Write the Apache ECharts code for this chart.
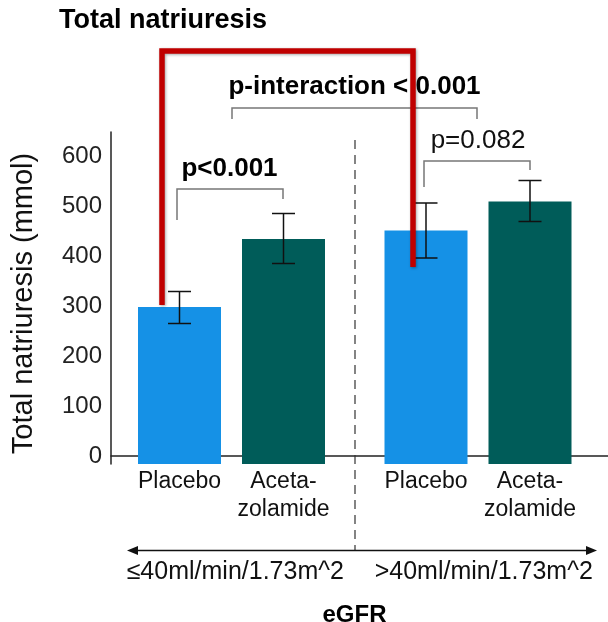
<!DOCTYPE html>
<html>
<head>
<meta charset="utf-8">
<script src="https://cdn.jsdelivr.net/npm/echarts@6/dist/echarts.min.js"></script>
<style>
html,body{margin:0;padding:0;background:#fff;}
#chart{width:608px;height:622px;}
</style>
</head>
<body>
<div id="chart"></div>
<script>
// ---- data ----
const groups = ['≤40ml/min/1.73m^2', '>40ml/min/1.73m^2'];
const treatments = ['Placebo', 'Aceta-\nzolamide'];
const meanLowEgfr = [298, 434];      // eGFR ≤40: placebo, acetazolamide
const meanHighEgfr = [451, 509];     // eGFR >40
const errLowEgfrLower = [265, 385];
const errLowEgfrUpper = [329, 485];
const errHighEgfrLower = [396, 469];
const errHighEgfrUpper = [506, 551];
const yTicks = [0, 100, 200, 300, 400, 500, 600];

const FONT = '"Liberation Sans", Arial, sans-serif';
const colors = ['#1591E6', '#005C59'];
const Y_MIN = -16, Y_MAX = 648;

function barData(vals) {
  return vals.map((v, i) => ({ value: v, itemStyle: { color: colors[i] } }));
}
function errData(lo, hi) {
  return lo.map((l, i) => [i, l, hi[i]]);
}
function renderErr(params, api) {
  const x = api.value(0);
  const lo = api.coord([x, api.value(1)]);
  const hi = api.coord([x, api.value(2)]);
  const hw = 11.5;
  const st = { stroke: '#111', lineWidth: 1.5 };
  return {
    type: 'group',
    children: [
      { type: 'line', shape: { x1: lo[0], y1: lo[1], x2: hi[0], y2: hi[1] }, style: st },
      { type: 'line', shape: { x1: lo[0] - hw, y1: lo[1], x2: lo[0] + hw, y2: lo[1] }, style: st },
      { type: 'line', shape: { x1: hi[0] - hw, y1: hi[1], x2: hi[0] + hw, y2: hi[1] }, style: st }
    ]
  };
}

const gridCommon = { top: 132, bottom: 158, outerBoundsMode: 'none', containLabel: false };
const hiddenY = (idx) => ({
  type: 'value', gridIndex: idx, min: Y_MIN, max: Y_MAX, startValue: Y_MIN, show: false
});
const catX = (idx) => ({
  type: 'category', gridIndex: idx, data: treatments,
  axisLine: { show: false }, axisTick: { show: false },
  axisLabel: { fontFamily: FONT, fontSize: 23, color: '#111', lineHeight: 28, margin: 4, interval: 0 }
});

const chart = echarts.init(document.getElementById('chart'), null, { renderer: 'canvas' });
const bracketStyle = { stroke: '#777', lineWidth: 1.5, fill: null };

chart.setOption({
  animation: false,
  backgroundColor: '#fff',
  title: {
    text: 'Total natriuresis', left: 59, top: 7, padding: 0,
    textStyle: { fontFamily: FONT, fontSize: 27, fontWeight: 'bold', color: '#000' }
  },
  grid: [
    Object.assign({ left: 111, right: 0 }, gridCommon),
    Object.assign({ left: 127.5, width: 208 }, gridCommon),
    Object.assign({ left: 374, width: 208 }, gridCommon)
  ],
  xAxis: [
    {
      type: 'category', gridIndex: 0, data: groups,
      axisLine: { show: true, lineStyle: { color: '#222', width: 1.5 } },
      axisTick: { show: false },
      axisLabel: { fontFamily: FONT, fontSize: 25, color: '#111', margin: 96, interval: 0 },
      name: 'eGFR', nameLocation: 'middle', nameGap: 139,
      nameTextStyle: { fontFamily: FONT, fontSize: 24, fontWeight: 'bold', color: '#000', padding: [0, 10, 0, 0] }
    },
    catX(1),
    catX(2)
  ],
  yAxis: [
    {
      type: 'value', gridIndex: 0, min: Y_MIN, max: Y_MAX, startValue: Y_MIN,
      axisLine: { show: true, lineStyle: { color: '#222', width: 1.5 } },
      axisTick: { show: false },
      splitLine: { show: false },
      axisLabel: { customValues: yTicks, fontFamily: FONT, fontSize: 24, color: '#222', margin: 9 },
      name: 'Total natriuresis (mmol)', nameLocation: 'middle', nameRotate: 90, nameGap: 73,
      nameTextStyle: { fontFamily: FONT, fontSize: 29, color: '#111', padding: [0, 11, 0, 0] }
    },
    hiddenY(1),
    hiddenY(2)
  ],
  series: [
    { type: 'bar', xAxisIndex: 1, yAxisIndex: 1, barWidth: 83, data: barData(meanLowEgfr), z: 2 },
    { type: 'bar', xAxisIndex: 2, yAxisIndex: 2, barWidth: 83, data: barData(meanHighEgfr), z: 2 },
    { type: 'custom', xAxisIndex: 1, yAxisIndex: 1, renderItem: renderErr,
      data: errData(errLowEgfrLower, errLowEgfrUpper), z: 3 },
    { type: 'custom', xAxisIndex: 2, yAxisIndex: 2, renderItem: renderErr,
      data: errData(errHighEgfrLower, errHighEgfrUpper), z: 3 }
  ],
  graphic: [
    // dashed separator
    { type: 'line', z: 5, shape: { x1: 355, y1: 140, x2: 355, y2: 550 },
      style: { stroke: '#333', lineWidth: 1.2, lineDash: [9, 6] } },
    // double arrow
    { type: 'line', z: 5, shape: { x1: 134, y1: 550.5, x2: 590, y2: 550.5 },
      style: { stroke: '#111', lineWidth: 1.5 } },
    { type: 'polygon', z: 5, shape: { points: [[127, 550.5], [138, 546], [138, 555]] }, style: { fill: '#111' } },
    { type: 'polygon', z: 5, shape: { points: [[597, 550.5], [586, 546], [586, 555]] }, style: { fill: '#111' } },
    // brackets
    { type: 'polyline', z: 5, shape: { points: [[177, 220], [177, 189], [283, 189], [283, 199]] }, style: bracketStyle },
    { type: 'polyline', z: 5, shape: { points: [[424, 187], [424, 161], [530, 161], [530, 170]] }, style: bracketStyle },
    { type: 'polyline', z: 5, shape: { points: [[232, 119], [232, 108], [477, 108], [477, 119]] }, style: bracketStyle },
    // p-value texts
    { type: 'text', z: 6, x: 229.5, y: 168.5,
      style: { text: 'p<0.001', font: 'bold 26px ' + FONT, fill: '#000', align: 'center', verticalAlign: 'middle' } },
    { type: 'text', z: 6, x: 478, y: 140.5,
      style: { text: 'p=0.082', font: '26px ' + FONT, fill: '#111', align: 'center', verticalAlign: 'middle' } },
    { type: 'text', z: 6, x: 354.5, y: 87,
      style: { text: 'p-interaction < 0.001', font: 'bold 26px ' + FONT, fill: '#000', align: 'center', verticalAlign: 'middle' } },
    // red highlight frame
    { type: 'polyline', z: 100, shape: { points: [[162, 305], [162, 51], [413, 51], [413, 267]] },
      style: { stroke: '#C00000', lineWidth: 5.5, fill: null, lineJoin: 'miter', lineCap: 'butt',
               shadowBlur: 3, shadowColor: 'rgba(0,0,0,0.35)', shadowOffsetX: 1, shadowOffsetY: 1 } }
  ]
});
</script>
</body>
</html>
